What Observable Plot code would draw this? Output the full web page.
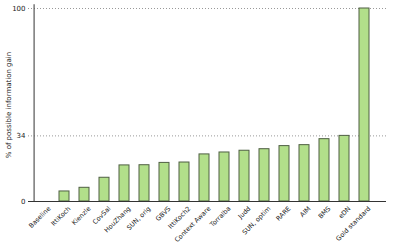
<!DOCTYPE html>
<html>
<head>
<meta charset="utf-8">
<script src="https://cdn.jsdelivr.net/npm/d3@7"></script>
<script src="https://cdn.jsdelivr.net/npm/@observablehq/plot@0.6"></script>
<style>
  html, body { margin: 0; padding: 0; background: #fff; }
  svg { display: block; }
</style>
</head>
<body>
<div id="chart"></div>
<script>
const categories = ["Baseline","IttiKoch","Kienzle","CovSal","HouZhang","SUN, orig","GBVS","IttiKoch2","Context Aware","Torralba","Judd","SUN, optim","RARE","AIM","BMS","eDN","Gold standard"];
const values = [0, 5.2, 7.1, 12.3, 18.7, 18.8, 20.0, 20.2, 24.4, 25.4, 26.3, 27.1, 28.7, 29.2, 32.3, 34, 100];
const yTicks = [0, 34, 100];
const gridValues = [34, 100];
const yLabel = "% of possible information gain";

const data = categories.map((c, i) => ({name: c, value: values[i]}));

const chart = Plot.plot({
  width: 393,
  height: 246,
  marginLeft: 28,
  marginRight: 7,
  marginTop: 8,
  marginBottom: 45,
  style: {fontFamily: "DejaVu Sans", fontSize: "7px", color: "#222", background: "#fff"},
  x: {domain: categories, range: [27.6, 380.4], paddingInner: 0.5, paddingOuter: 0.25, label: null, axis: null},
  y: {domain: [0, 100], range: [201, 8]},
  marks: [
    Plot.ruleY(gridValues, {stroke: "#999", strokeDasharray: "1,2", strokeWidth: 1}),
    Plot.barY(data, {x: "name", y: "value", fill: "#b2df8a", stroke: "#4f5f43", strokeWidth: 1}),
    Plot.ruleY([0], {stroke: "#333", strokeWidth: 1.2}),
    Plot.ruleX([categories[0]], {dx: -10.4, y1: 0, y2: 102, stroke: "#555", strokeWidth: 1.2}),
    Plot.axisY({ticks: yTicks, tickSize: 0, tickPadding: 3, label: yLabel, labelAnchor: "center", labelArrow: "none", labelOffset: 22, fontSize: 7}),
    Plot.text(categories, {x: d => d, y: () => 0, text: d => d, rotate: -45, textAnchor: "end", dx: 5, dy: 6, fontSize: 6.5, fill: "#222"})
  ]
});
document.getElementById("chart").appendChild(chart);
</script>
</body>
</html>
